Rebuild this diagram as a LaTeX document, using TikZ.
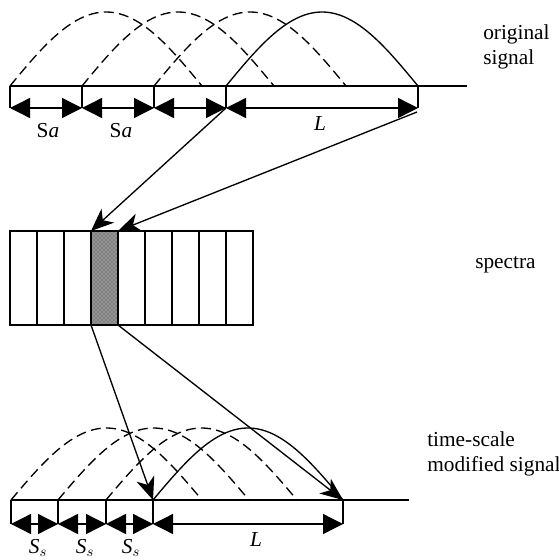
\documentclass[tikz,border=0pt]{standalone}
\usepackage{fontspec}
\setmainfont{Liberation Serif}
\usetikzlibrary{arrows.meta,patterns}

\tikzset{
  wire/.style={line width=1pt, line join=miter},
  dimarrow/.style={line width=1pt, {Triangle[length=15pt,width=15pt]}-{Triangle[length=15pt,width=15pt]}},
  maparrow/.style={line width=1pt, -{Stealth[length=17pt,width=14pt,inset=5pt]}},
  winsolid/.style={line width=1pt},
  windashed/.style={line width=1pt, dash pattern=on 7.5pt off 4pt},
  lbl/.style={font=\fontsize{16}{18.5}\selectfont, inner sep=0pt},
  cell/.style={draw, line width=1pt, minimum width=27*0.75pt, minimum height=94*0.75pt, inner sep=0pt, outer sep=0pt}
}

\begin{document}
\begin{tikzpicture}[x=0.75pt, y=-0.75pt]
\useasboundingbox (0,0) rectangle (559,560);

% ---------- original signal ----------
\foreach \n/\px in {0/10, 1/82, 2/154, 3/226, 4/418} {
  \coordinate (ta\n) at (\px,86);
  \coordinate (tb\n) at (\px,108);
}
\coordinate (taxis) at (467,86);
\draw[wire] (ta0) -- (taxis);
\foreach \n in {0,...,4} \draw[wire] (ta\n) -- (tb\n);
\draw[dimarrow] (tb0) -- (tb1);
\draw[dimarrow] (tb1) -- (tb2);
\draw[dimarrow] (tb2) -- (tb3);
\draw[dimarrow] (tb3) -- (tb4);

% analysis windows
\foreach \px in {10,82,154}
  \draw[windashed] plot[domain=0:180, samples=50] ({\px + \x/180*192}, {86 - 74*sin(\x)});
\draw[winsolid] plot[domain=0:180, samples=50] ({226 + \x/180*192}, {86 - 74*sin(\x)});

\node[lbl] (sa1) at (48,131) {S\textit{a}};
\node[lbl] (sa2) at (121,131) {S\textit{a}};
\node[lbl] (lt) at (320,124) {\textit{L}};
\node[lbl, align=left, anchor=west] (orig) at (483,47) {original\\signal};

% ---------- spectra ----------
\foreach \i in {1,...,9}
  \node[cell] (c\i) at ({10 + 27*(\i-0.5)}, 278) {};
\fill[black!50] (c4.south west) rectangle (c4.north east);
\fill[pattern=crosshatch dots, pattern color=white!85!black] (c4.south west) rectangle (c4.north east);
\foreach \i in {1,...,9}
  \node[cell] at (c\i) {};
\node[lbl, anchor=west] (spec) at (475,265) {spectra};

\coordinate (tin) at (417,112);
\draw[maparrow] (tb3) -- (c4.north west);
\draw[maparrow] (tin) -- (c4.north east);

% ---------- time-scale modified signal ----------
\foreach \n/\px in {0/11, 1/58, 2/106, 3/153, 4/343} {
  \coordinate (ba\n) at (\px,500);
  \coordinate (bb\n) at (\px,524);
}
\coordinate (baxis) at (409,500);
\draw[wire] (ba0) -- (baxis);
\foreach \n in {0,...,4} \draw[wire] (ba\n) -- (bb\n);
\draw[dimarrow] (bb0) -- (bb1);
\draw[dimarrow] (bb1) -- (bb2);
\draw[dimarrow] (bb2) -- (bb3);
\draw[dimarrow] (bb3) -- (bb4);

% synthesis windows
\foreach \px in {11,58,106}
  \draw[windashed] plot[domain=0:180, samples=50] ({\px + \x/180*191}, {500 - 72*sin(\x)});
\draw[winsolid] plot[domain=0:180, samples=50] ({153 + \x/180*190}, {500 - 72*sin(\x)});

\draw[maparrow] (c4.south west) -- (ba3);
\draw[maparrow] (c4.south east) -- (ba4);

\node[lbl] (ss1) at (38,548) {\textit{S}$_s$};
\node[lbl] (ss2) at (85,548) {\textit{S}$_s$};
\node[lbl] (ss3) at (131,548) {\textit{S}$_s$};
\node[lbl] (lb) at (256,540) {\textit{L}};
\node[lbl, align=left, anchor=west] (mod) at (427,454) {time-scale\\modified signal};
\end{tikzpicture}
\end{document}
